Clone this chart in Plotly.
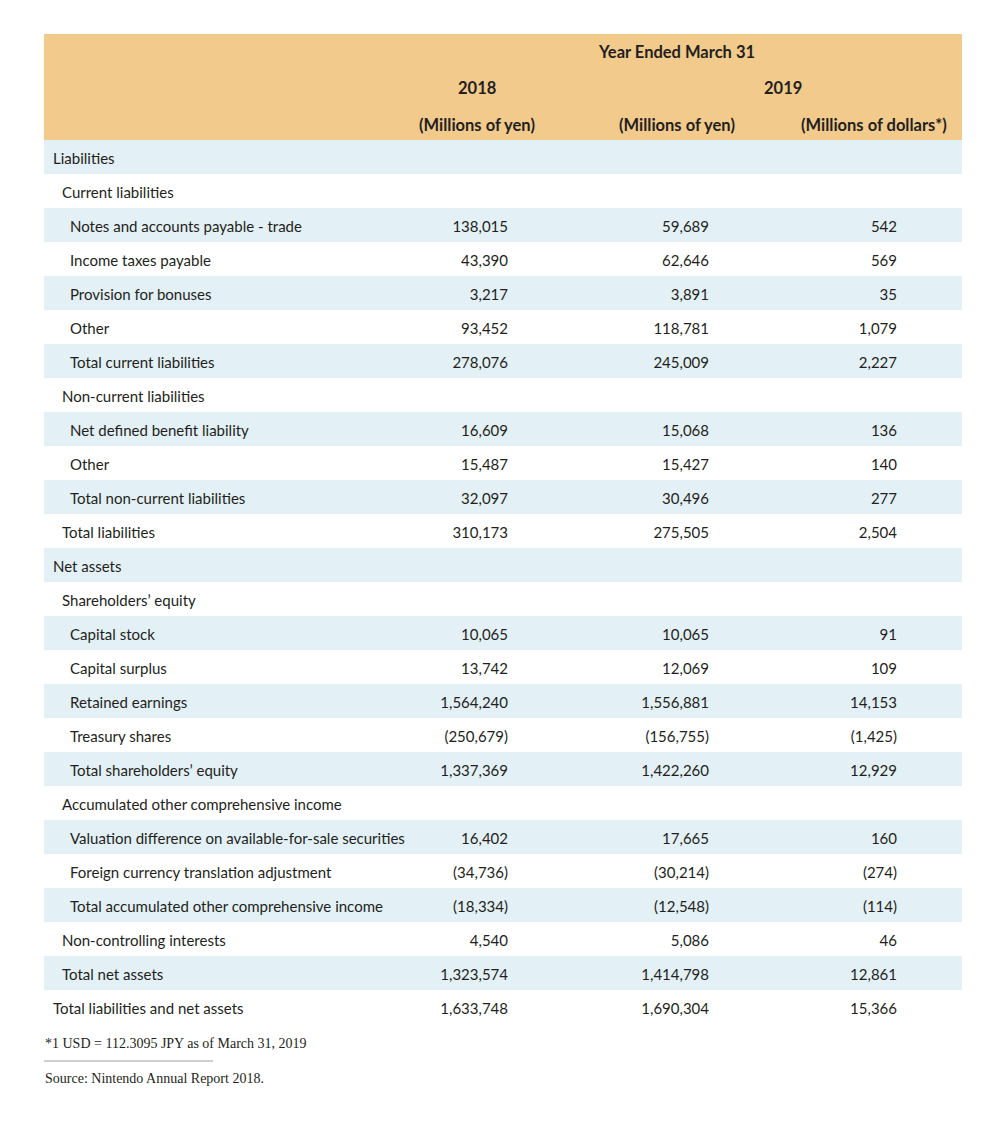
import plotly.graph_objects as go

labels = [
    "Liabilities", "Current liabilities", "Notes and accounts payable - trade",
    "Income taxes payable", "Provision for bonuses", "Other",
    "Total current liabilities", "Non-current liabilities",
    "Net defined benefit liability", "Other", "Total non-current liabilities",
    "Total liabilities", "Net assets", "Shareholders\u2019 equity", "Capital stock",
    "Capital surplus", "Retained earnings", "Treasury shares",
    "Total shareholders\u2019 equity", "Accumulated other comprehensive income",
    "Valuation difference on available-for-sale securities",
    "Foreign currency translation adjustment",
    "Total accumulated other comprehensive income", "Non-controlling interests",
    "Total net assets", "Total liabilities and net assets",
]
indent = [0, 1, 2, 2, 2, 2, 2, 1, 2, 2, 2, 1, 0, 1, 2, 2, 2, 2, 2, 1, 2, 2, 2, 1, 1, 0]
yen_2018 = [None, None, 138015, 43390, 3217, 93452, 278076, None, 16609, 15487, 32097,
            310173, None, None, 10065, 13742, 1564240, -250679, 1337369, None,
            16402, -34736, -18334, 4540, 1323574, 1633748]
yen_2019 = [None, None, 59689, 62646, 3891, 118781, 245009, None, 15068, 15427, 30496,
            275505, None, None, 10065, 12069, 1556881, -156755, 1422260, None,
            17665, -30214, -12548, 5086, 1414798, 1690304]
usd_2019 = [None, None, 542, 569, 35, 1079, 2227, None, 136, 140, 277,
            2504, None, None, 91, 109, 14153, -1425, 12929, None,
            160, -274, -114, 46, 12861, 15366]
column_years = ["2018", "2019"]
column_units = ["(Millions of yen)", "(Millions of yen)", "(Millions of dollars*)"]
header_title = "Year Ended March 31"
footnote = "*1 USD = 112.3095 JPY as of March 31, 2019"
source = "Source: Nintendo Annual Report 2018."

# ---- style / layout ----
BODY_MARGIN = 8            # browser default body margin
W, H = 991 - 2 * BODY_MARGIN, 1126 - 2 * BODY_MARGIN
TABLE_LEFT, TABLE_TOP = 44 - BODY_MARGIN, 34 - BODY_MARGIN
TABLE_W = 918
ROW_PX = 34
HEADER_PX = 106
HDR_ROWS = HEADER_PX / ROW_PX
N = len(labels)
ORANGE = "#F2CA8B"
BLUE = "#E3F0F5"
TXT = "#231F20"
FONT = "Lato"
FS = 15
HFS = 16.5
TEXT_SHIFT = 0.1           # optical vertical centering of text in rows
INDENT_X = [9, 18, 26]
NUM_RIGHT = [464, 665, 853]
UNIT_CENTER = [433, 633, 830]
YEAR_CENTER = [433, 739]
TITLE_CENTER = 632


def fmt(v):
    if v is None:
        return ""
    return f"({abs(v):,})" if v < 0 else f"{v:,}"


rows_y = [i + 0.5 for i in range(N)]
text_y = [y + TEXT_SHIFT for y in rows_y]
fig = go.Figure()

# row backgrounds
fig.add_trace(go.Bar(
    orientation="h", y=rows_y, x=[TABLE_W] * N, base=0, width=1,
    marker=dict(color=[BLUE if i % 2 == 0 else "white" for i in range(N)], line=dict(width=0)),
    hoverinfo="skip", showlegend=False,
))
# header background
fig.add_trace(go.Bar(
    orientation="h", y=[-HDR_ROWS / 2], x=[TABLE_W], base=0, width=HDR_ROWS,
    marker=dict(color=ORANGE, line=dict(width=0)), hoverinfo="skip", showlegend=False,
))

# labels
fig.add_trace(go.Scatter(
    x=[INDENT_X[l] for l in indent], y=text_y, text=labels, mode="text",
    textposition="middle right", textfont=dict(family=FONT, size=FS, color=TXT),
    hoverinfo="skip", showlegend=False, cliponaxis=False,
))
# numbers
for col, vals in enumerate([yen_2018, yen_2019, usd_2019]):
    fig.add_trace(go.Scatter(
        x=[NUM_RIGHT[col]] * N, y=text_y, text=[fmt(v) for v in vals], mode="text",
        textposition="middle left", textfont=dict(family=FONT, size=FS, color=TXT),
        hoverinfo="skip", showlegend=False, cliponaxis=False,
    ))

ann = []
bold = dict(family=FONT, size=HFS, color=TXT)
y_title = (52 - 140) / ROW_PX
y_year = (88 - 140) / ROW_PX
y_unit = (125 - 140) / ROW_PX
ann.append(dict(x=TITLE_CENTER, y=y_title, text=f"<b>{header_title}</b>", xref="x", yref="y",
                showarrow=False, font=bold, xanchor="center", yanchor="middle"))
for xc, t in zip(YEAR_CENTER, column_years):
    ann.append(dict(x=xc, y=y_year, text=f"<b>{t}</b>", xref="x", yref="y",
                    showarrow=False, font=bold, xanchor="center", yanchor="middle"))
for xc, t in zip(UNIT_CENTER, column_units):
    ann.append(dict(x=xc, y=y_unit, text=f"<b>{t}</b>", xref="x", yref="y",
                    showarrow=False, font=bold, xanchor="center", yanchor="middle"))

plot_h = HEADER_PX + N * ROW_PX
plot_bottom_page = 34 + plot_h


def paper_y(page_y):
    return (plot_bottom_page - page_y) / plot_h


serif = dict(family="Liberation Serif", size=14, color=TXT)
ann.append(dict(x=0, y=paper_y(1043), text=footnote, xref="paper", yref="paper",
                showarrow=False, font=serif, xanchor="left", yanchor="middle",
                borderpad=0))
ann.append(dict(x=0, y=paper_y(1078), text=source, xref="paper", yref="paper",
                showarrow=False, font=serif, xanchor="left", yanchor="middle",
                borderpad=0))

fig.update_layout(
    width=W, height=H,
    margin=dict(l=TABLE_LEFT, r=W - TABLE_LEFT - TABLE_W, t=TABLE_TOP,
                b=H - TABLE_TOP - plot_h, pad=0),
    paper_bgcolor="white", plot_bgcolor="white",
    xaxis=dict(range=[0, TABLE_W], visible=False, fixedrange=True),
    yaxis=dict(range=[N, -HDR_ROWS], visible=False, fixedrange=True),
    barmode="overlay", annotations=ann,
    shapes=[dict(type="line", xref="x", yref="paper", x0=0, x1=169,
                 y0=paper_y(1061), y1=paper_y(1061),
                 line=dict(color="#A0A0A0", width=1))],
    font=dict(family=FONT, color=TXT),
)
fig.write_html("out.html")
